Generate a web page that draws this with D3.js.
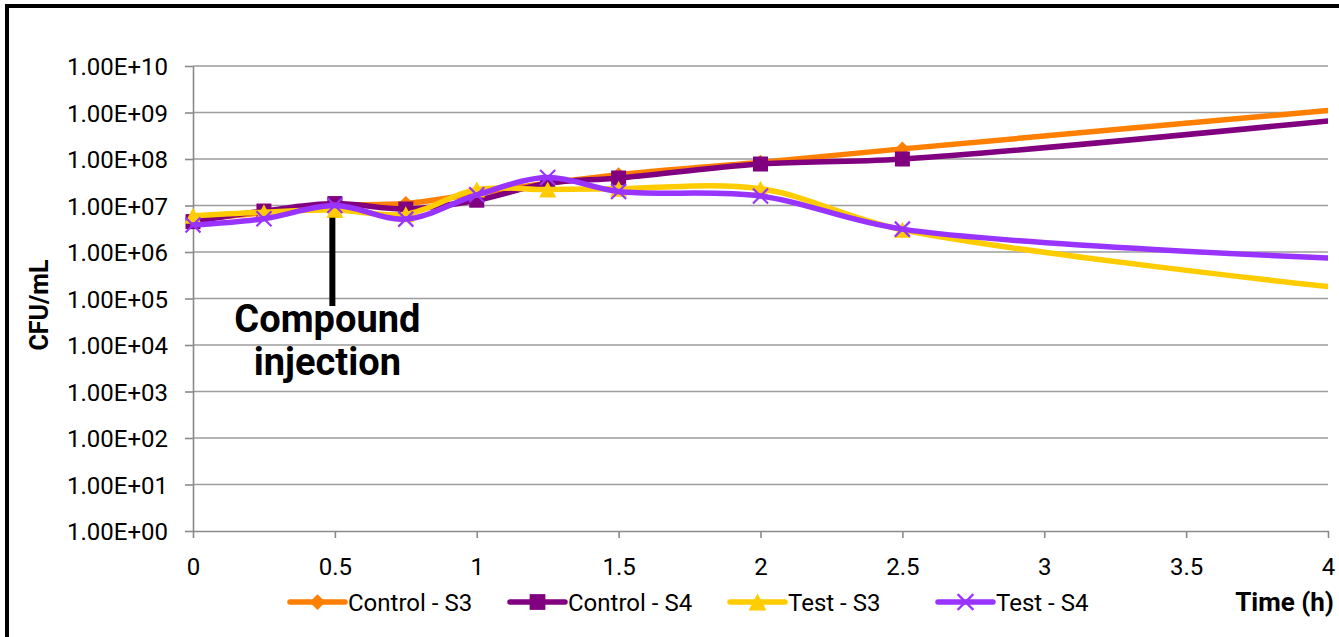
<!DOCTYPE html>
<html>
<head>
<meta charset="utf-8">
<script src="https://cdn.jsdelivr.net/npm/d3@7"></script>
<style>
  html, body { margin: 0; padding: 0; background: #fff; }
  svg { display: block; font-family: Roboto, "Liberation Sans", Arial, sans-serif; }
</style>
</head>
<body>
<svg id="chart" width="1339" height="637"></svg>
<script>
// ---------------- DATA ----------------
const times = [0, 0.25, 0.5, 0.75, 1, 1.25, 1.5, 2, 2.5, 4];
const controlS3 = [5.0e6, 7.0e6, 1.0e7, 1.1e7, 1.8e7, 3.0e7, 4.6e7, 8.5e7, 1.65e8, 1.1e9];
const controlS4 = [4.5e6, 7.6e6, 1.1e7, 8.4e6, 1.3e7, 3.0e7, 3.9e7, 7.8e7, 1.0e8, 6.6e8];
const testS3    = [6.0e6, 7.2e6, 8.0e6, 6.5e6, 2.2e7, 2.2e7, 2.3e7, 2.3e7, 3.0e6, 1.8e5];
const testS4    = [3.8e6, 5.2e6, 1.0e7, 5.1e6, 1.7e7, 4.0e7, 2.0e7, 1.6e7, 3.1e6, 7.4e5];
const seriesNames = ["Control - S3", "Control - S4", "Test - S3", "Test - S4"];
const xTicks = [0, 0.5, 1, 1.5, 2, 2.5, 3, 3.5, 4];
const xTickLabels = ["0", "0.5", "1", "1.5", "2", "2.5", "3", "3.5", "4"];
const yTicks = [1e0, 1e1, 1e2, 1e3, 1e4, 1e5, 1e6, 1e7, 1e8, 1e9, 1e10];
const yTickLabels = ["1.00E+00", "1.00E+01", "1.00E+02", "1.00E+03", "1.00E+04", "1.00E+05",
                     "1.00E+06", "1.00E+07", "1.00E+08", "1.00E+09", "1.00E+10"];
const yTitle = "CFU/mL";
const xTitle = "Time (h)";
const annotationLines = ["Compound", "injection"];
const injectionTime = 0.5;
// Markers appear at measured points; the last (t = 4) is the axis-edge end of the curve.
const markerMaxTime = 3.9;

// ---------------- STYLE / LAYOUT ----------------
const colors = ["#FF7F00", "#800080", "#FFCC00", "#9933FF"];
const markers = ["diamond", "square", "triangle", "x"];
const legendX = [290, 510, 730, 938];

const svg = d3.select("#chart");
const plot = { left: 193, right: 1328, top: 66, bottom: 531 };

const x = d3.scaleLinear().domain([0, 4]).range([plot.left, plot.right]);
const y = d3.scaleLog().domain([1, 1e10]).range([plot.bottom, plot.top]);

// outer frame
svg.append("rect").attr("x", 7).attr("y", 6).attr("width", 1400).attr("height", 700)
  .attr("fill", "none").attr("stroke", "#000").attr("stroke-width", 4);

// gridlines
svg.append("g").selectAll("line").data(yTicks.slice(1)).join("line")
  .attr("x1", plot.left).attr("x2", plot.right)
  .attr("y1", d => y(d)).attr("y2", d => y(d))
  .attr("stroke", "#9d9d9d").attr("stroke-width", 1.6);

// y axis
const yAxis = d3.axisLeft(y).tickValues(yTicks)
  .tickFormat((d, i) => yTickLabels[i]).tickSizeInner(8).tickSizeOuter(0).tickPadding(17);
const gy = svg.append("g").attr("transform", `translate(${plot.left},0)`).call(yAxis);
gy.select(".domain").attr("stroke", "#8a8a8a").attr("stroke-width", 1.6);
gy.selectAll(".tick line").attr("stroke", "#8a8a8a").attr("stroke-width", 1.6);
gy.selectAll(".tick text").attr("fill", "#000").style("font-size", "24px")
  .style("font-family", "Roboto, sans-serif").attr("dy", "0.36em");

// x axis
const xAxis = d3.axisBottom(x).tickValues(xTicks)
  .tickFormat((d, i) => xTickLabels[i]).tickSizeInner(7).tickSizeOuter(0).tickPadding(20);
const gx = svg.append("g").attr("transform", `translate(0,${plot.bottom})`).call(xAxis);
gx.select(".domain").attr("stroke", "#8a8a8a").attr("stroke-width", 1.6);
gx.selectAll(".tick line").attr("stroke", "#8a8a8a").attr("stroke-width", 1.6);
gx.selectAll(".tick text").attr("fill", "#000").style("font-size", "24px")
  .style("font-family", "Roboto, sans-serif");

// axis titles
svg.append("text").attr("transform", `translate(48,305) rotate(-90)`)
  .attr("text-anchor", "middle").style("font-size", "25px").style("font-weight", "bold")
  .attr("fill", "#000").text(yTitle);
svg.append("text").attr("x", 1334).attr("y", 611).attr("text-anchor", "end")
  .style("font-size", "26px").style("font-weight", "bold").attr("fill", "#000").text(xTitle);

// marker drawer
function drawMarker(g, type, color, cx, cy, scale) {
  const s = scale || 1;
  if (type === "diamond") {
    const r = 7.5 * s;
    g.append("path").attr("d", `M${cx},${cy - r}L${cx + r},${cy}L${cx},${cy + r}L${cx - r},${cy}Z`)
      .attr("fill", color);
  } else if (type === "square") {
    const r = 7.5 * s;
    g.append("rect").attr("x", cx - r).attr("y", cy - r).attr("width", 2 * r).attr("height", 2 * r)
      .attr("fill", color);
  } else if (type === "triangle") {
    const w = 8.5 * s, h = 8 * s;
    g.append("path").attr("d", `M${cx},${cy - h}L${cx + w},${cy + h}L${cx - w},${cy + h}Z`)
      .attr("fill", color);
  } else if (type === "x") {
    const r = 7.5 * s;
    g.append("path").attr("d", `M${cx - r},${cy - r}L${cx + r},${cy + r}M${cx - r},${cy + r}L${cx + r},${cy - r}`)
      .attr("stroke", color).attr("stroke-width", 2.2).attr("fill", "none");
  }
}

// series
const allSeries = [controlS3, controlS4, testS3, testS4];
const line = d3.line().x(d => x(d.t)).y(d => y(d.v)).curve(d3.curveCatmullRom.alpha(0.5));

svg.append("defs").append("clipPath").attr("id", "plotclip")
  .append("rect").attr("x", plot.left - 20).attr("y", plot.top - 20)
  .attr("width", plot.right - plot.left + 20).attr("height", plot.bottom - plot.top + 40);

allSeries.forEach((vals, si) => {
  const pts = times.map((t, i) => ({ t: t, v: vals[i] }));
  const g = svg.append("g").attr("clip-path", "url(#plotclip)");
  g.append("path").datum(pts).attr("d", line)
    .attr("fill", "none").attr("stroke", colors[si]).attr("stroke-width", 5.5)
    .attr("stroke-linecap", "round").attr("stroke-linejoin", "round");
  pts.filter(p => p.t <= markerMaxTime).forEach(p => {
    drawMarker(g, markers[si], colors[si], x(p.t), y(p.v));
  });
});

// annotation: compound injection
const annX = x(injectionTime) - 2.5;
svg.append("line").attr("x1", annX).attr("x2", annX)
  .attr("y1", y(7e6) + 5).attr("y2", y(8e4) + 3)
  .attr("stroke", "#000").attr("stroke-width", 6);
annotationLines.forEach((s, i) => {
  svg.append("text").attr("x", annX - 5).attr("y", 332 + i * 43)
    .attr("text-anchor", "middle").style("font-size", "38px").style("font-weight", "bold")
    .attr("fill", "#000").text(s);
});

// legend
const legY = 602;
seriesNames.forEach((name, si) => {
  const lx = legendX[si];
  const g = svg.append("g");
  g.append("line").attr("x1", lx).attr("x2", lx + 55).attr("y1", legY).attr("y2", legY)
    .attr("stroke", colors[si]).attr("stroke-width", 5.5).attr("stroke-linecap", "round");
  drawMarker(g, markers[si], colors[si], lx + 27.5, legY, 1.05);
  g.append("text").attr("x", lx + 58).attr("y", legY).attr("dy", "0.36em")
    .style("font-size", "24px").attr("fill", "#000").text(name);
});
</script>
</body>
</html>
